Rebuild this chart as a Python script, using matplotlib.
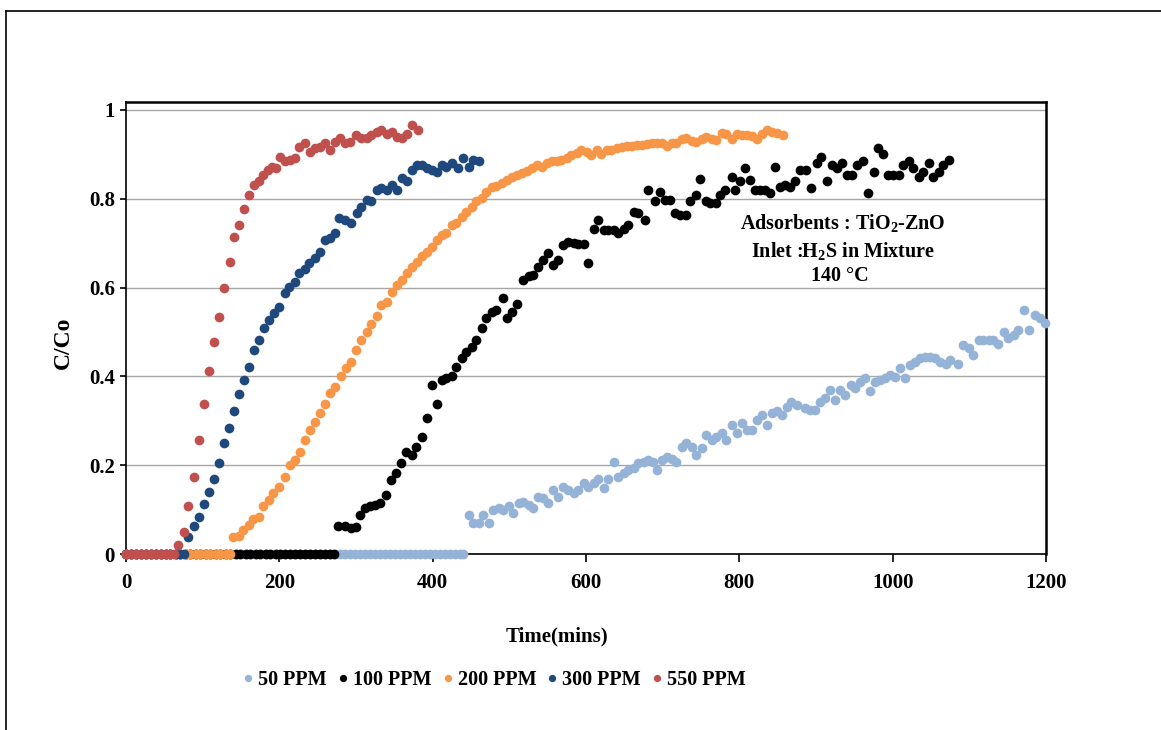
import matplotlib.pyplot as plt
from matplotlib.lines import Line2D

plt.rcParams['font.family'] = ['Liberation Serif', 'DejaVu Serif']
plt.rcParams['font.weight'] = 'bold'
plt.rcParams['mathtext.fontset'] = 'custom'
plt.rcParams['mathtext.rm'] = 'Liberation Serif:bold'
plt.rcParams['mathtext.it'] = 'Liberation Serif:bold'
plt.rcParams['mathtext.default'] = 'rm'

# 50 PPM
t50 = [0, 6, 13, 19, 26, 32, 39, 45, 52, 58, 65, 71, 78, 84, 91, 97, 104, 110, 117, 123,
       130, 136, 143, 149, 156, 162, 169, 175, 182, 188, 195, 201, 208, 214, 221, 227, 234,
       240, 247, 253, 260, 266, 273, 279, 286, 292, 299, 305, 312, 318, 325, 331, 338, 344,
       351, 357, 364, 370, 377, 383, 390, 396, 403, 409, 416, 422, 429, 435, 440,
       447, 453, 460, 466, 473, 479, 486, 492, 499, 505, 512, 518, 525, 531, 538, 544, 551,
       557, 564, 570, 577, 584, 590, 597, 603, 610, 616, 623, 629, 636, 642, 649, 655, 662,
       668, 675, 681, 688, 692, 699, 705, 712, 718, 725, 731, 738, 744, 751, 757, 764, 770,
       777, 783, 790, 797, 803, 810, 816, 823, 829, 836, 842, 849, 855, 862, 868, 875, 886,
       892, 899, 905, 912, 918, 925, 931, 938, 945, 951, 958, 964, 971, 977, 983, 990, 997,
       1003, 1010, 1016, 1023, 1029, 1036, 1042, 1049, 1055, 1062, 1069, 1075, 1085, 1092,
       1099, 1105, 1112, 1118, 1125, 1131, 1138, 1145, 1151, 1158, 1164, 1171, 1178, 1186,
       1192, 1199]
c50 = [0, 0, 0, 0, 0, 0, 0, 0, 0, 0, 0, 0, 0, 0, 0, 0, 0, 0, 0, 0,
       0, 0, 0, 0, 0, 0, 0, 0, 0, 0, 0, 0, 0, 0, 0, 0, 0,
       0, 0, 0, 0, 0, 0, 0, 0, 0, 0, 0, 0, 0, 0, 0, 0, 0,
       0, 0, 0, 0, 0, 0, 0, 0, 0, 0, 0, 0, 0, 0, 0,
       0.088, 0.069, 0.069, 0.088, 0.069, 0.099, 0.103, 0.099, 0.107, 0.092,
       0.114, 0.118, 0.11, 0.103, 0.129, 0.125, 0.114, 0.144, 0.129, 0.152,
       0.144, 0.137, 0.144, 0.159, 0.152, 0.159, 0.17, 0.148, 0.17, 0.208,
       0.174, 0.182, 0.189, 0.193, 0.204, 0.208, 0.212, 0.208, 0.189, 0.212,
       0.219, 0.215, 0.208, 0.242, 0.249, 0.242, 0.223, 0.238, 0.268, 0.257,
       0.264, 0.272, 0.257, 0.291, 0.272, 0.294, 0.279, 0.279, 0.302, 0.313,
       0.291, 0.317, 0.321, 0.313, 0.332, 0.343, 0.336,
       0.328, 0.324, 0.324, 0.343, 0.351, 0.369, 0.347, 0.369, 0.358, 0.381,
       0.373, 0.388, 0.396, 0.366, 0.388, 0.392, 0.396, 0.403, 0.399, 0.418,
       0.396, 0.426, 0.433, 0.441, 0.444, 0.444, 0.441, 0.433, 0.429, 0.437,
       0.429, 0.471, 0.463, 0.448, 0.482, 0.483, 0.482, 0.482, 0.474, 0.501,
       0.486, 0.493, 0.505, 0.55, 0.505, 0.538, 0.531, 0.52]

# 100 PPM
t100 = [0, 6, 13, 19, 26, 32, 39, 45, 52, 58, 65, 71, 78, 84, 91, 97, 104, 110, 117, 123,
        130, 136, 143, 149, 156, 162, 169, 175, 182, 188, 195, 201, 208, 214, 221, 227, 234,
        240, 247, 253, 260, 266, 271,
        277, 286, 293, 300, 305, 312, 318, 325, 331, 339, 345, 352, 359, 365, 373, 378, 386,
        392, 399, 405, 412, 418, 425, 431, 438, 444, 451, 457, 464, 470, 477, 483, 492, 497,
        503, 510, 518, 525, 531, 538, 544, 551, 557, 564, 570, 577, 584, 590, 597, 603, 610,
        616, 623, 629, 636, 642, 649, 655, 662, 668, 677, 681, 690, 697, 703, 710, 716, 723,
        730, 736, 743, 749, 756, 762, 769, 775, 781, 790, 794, 801, 807, 814, 820, 827, 833,
        840, 846, 853, 860, 866, 873, 879, 887, 894, 901, 907, 914, 921, 927, 934, 940, 947,
        953, 961, 968, 975, 981, 988, 994, 1001, 1008, 1014, 1021, 1027, 1034, 1040, 1047,
        1053, 1060, 1066, 1074]
c100 = [0, 0, 0, 0, 0, 0, 0, 0, 0, 0, 0, 0, 0, 0, 0, 0, 0, 0, 0, 0,
        0, 0, 0, 0, 0, 0, 0, 0, 0, 0, 0, 0, 0, 0, 0, 0, 0,
        0, 0, 0, 0, 0, 0,
        0.062, 0.062, 0.058, 0.06, 0.088, 0.103, 0.107, 0.11, 0.114, 0.133,
        0.167, 0.182, 0.204, 0.23, 0.223, 0.242, 0.264, 0.306, 0.381, 0.338,
        0.392, 0.396, 0.401, 0.422, 0.441, 0.456, 0.467, 0.482, 0.508, 0.531,
        0.546, 0.55, 0.576, 0.531, 0.546, 0.563, 0.617, 0.625, 0.628, 0.647, 0.662, 0.677,
        0.651, 0.662, 0.696, 0.703, 0.7, 0.698, 0.698, 0.655, 0.733, 0.752,
        0.73, 0.73, 0.73, 0.722, 0.733, 0.741, 0.771, 0.767, 0.752, 0.82,
        0.794, 0.816, 0.797, 0.797, 0.767, 0.764, 0.764, 0.794, 0.809, 0.844,
        0.794, 0.791, 0.791, 0.809, 0.82, 0.85, 0.82, 0.839, 0.869, 0.842,
        0.82, 0.82, 0.82, 0.812, 0.872, 0.827, 0.831, 0.827, 0.839, 0.865,
        0.865, 0.824, 0.88, 0.895, 0.839, 0.876, 0.869, 0.88, 0.854, 0.854,
        0.876, 0.884, 0.812, 0.861, 0.914, 0.902, 0.854, 0.854, 0.854, 0.876,
        0.884, 0.869, 0.85, 0.861, 0.88, 0.848, 0.861, 0.876, 0.887]

# 200 PPM
t200 = [0, 6, 13, 19, 26, 32, 39, 45, 52, 58, 65, 71, 78, 84, 91, 97, 104, 110, 117, 123,
        130, 136,
        140, 147, 153, 160, 166, 173, 179, 186, 192, 200, 207, 214, 220, 227, 233, 240, 247,
        253, 260, 266, 273, 280, 287, 293, 300, 307, 314, 320, 327, 333, 340, 347, 353, 360,
        366, 373, 379, 386, 392, 399, 405, 412, 418, 425, 431, 438, 444, 451, 457, 464, 470,
        477, 483, 490, 497, 503, 510, 516, 523, 529, 536, 542, 549, 555, 562, 568, 575, 581,
        588, 594, 601, 607, 614, 620, 627, 633, 640, 647, 653, 660, 666, 673, 679, 686, 692,
        699, 705, 712, 718, 725, 731, 738, 744, 751, 757, 764, 770, 777, 783, 790, 797, 803,
        810, 816, 823, 829, 836, 842, 849, 857]
c200 = [0, 0, 0, 0, 0, 0, 0, 0, 0, 0, 0, 0, 0, 0, 0, 0, 0, 0, 0, 0,
        0, 0,
        0.038, 0.041, 0.054, 0.065, 0.078, 0.084, 0.107, 0.122, 0.137, 0.152,
        0.174, 0.2, 0.212, 0.23, 0.257, 0.279, 0.298, 0.317, 0.338, 0.362,
        0.375, 0.401, 0.418, 0.433, 0.459, 0.482, 0.501, 0.518, 0.536, 0.561,
        0.568, 0.591, 0.606, 0.617, 0.632, 0.647, 0.658, 0.671, 0.681, 0.692,
        0.707, 0.718, 0.722, 0.741, 0.745, 0.76, 0.771, 0.782, 0.794, 0.801,
        0.816, 0.827, 0.829, 0.835, 0.842, 0.848, 0.854, 0.859, 0.863, 0.869, 0.876, 0.872,
        0.88, 0.884, 0.884, 0.887, 0.891, 0.899, 0.904, 0.91, 0.906, 0.899, 0.91,
        0.902, 0.91, 0.911, 0.914, 0.917, 0.919, 0.919, 0.921, 0.921, 0.923,
        0.925, 0.926, 0.925, 0.919, 0.926, 0.925, 0.934, 0.936, 0.931, 0.929,
        0.934, 0.94, 0.934, 0.932, 0.949, 0.947, 0.934, 0.947, 0.944, 0.944,
        0.941, 0.934, 0.947, 0.956, 0.951, 0.949, 0.944]

# 300 PPM
t300 = [0, 6, 13, 19, 26, 32, 39, 45, 52, 58, 65, 71, 76,
        81, 89, 95, 102, 108, 115, 121, 128, 134, 141, 148, 154, 161, 167, 174, 180, 187,
        193, 200, 207, 213, 220, 226, 233, 239, 247, 253, 260, 266, 273, 278, 286, 294, 301,
        307, 314, 320, 327, 333, 340, 347, 353, 360, 366, 373, 379, 386, 392, 399, 405, 412,
        418, 425, 433, 440, 447, 453, 460]
c300 = [0, 0, 0, 0, 0, 0, 0, 0, 0, 0, 0, 0, 0,
        0.039, 0.062, 0.084, 0.113, 0.14, 0.169, 0.206, 0.249, 0.283, 0.323,
        0.36, 0.392, 0.422, 0.459, 0.483, 0.508, 0.527, 0.542, 0.557, 0.587,
        0.602, 0.613, 0.632, 0.643, 0.655, 0.666, 0.681, 0.707, 0.711, 0.722,
        0.756, 0.752, 0.745, 0.767, 0.782, 0.797, 0.794, 0.82, 0.824, 0.82,
        0.831, 0.82, 0.846, 0.839, 0.865, 0.876, 0.876, 0.869, 0.865, 0.861,
        0.876, 0.872, 0.88, 0.869, 0.891, 0.872, 0.887, 0.885]

# 550 PPM
t550 = [0, 6, 13, 19, 26, 32, 39, 45, 52, 58, 62,
        68, 75, 81, 89, 95, 102, 108, 115, 121, 128, 135, 141, 148, 154, 161, 167, 174, 179,
        185, 190, 195, 201, 207, 214, 220, 226, 233, 240, 247, 253, 260, 266, 273, 279, 286,
        292, 300, 307, 314, 320, 327, 333, 340, 347, 353, 360, 366, 373, 381]
c550 = [0, 0, 0, 0, 0, 0, 0, 0, 0, 0, 0,
        0.02, 0.05, 0.107, 0.174, 0.257, 0.337, 0.413, 0.478, 0.533, 0.598,
        0.658, 0.715, 0.74, 0.778, 0.809, 0.831, 0.839, 0.854, 0.865, 0.872,
        0.87, 0.895, 0.884, 0.887, 0.891, 0.917, 0.925, 0.906, 0.914, 0.917,
        0.925, 0.91, 0.929, 0.936, 0.925, 0.929, 0.944, 0.936, 0.936, 0.944,
        0.951, 0.955, 0.947, 0.951, 0.94, 0.936, 0.947, 0.966, 0.955]

series = [
    (t50, c50, '50 PPM', '#95B3D7'),
    (t100, c100, '100 PPM', '#000000'),
    (t200, c200, '200 PPM', '#F79646'),
    (t300, c300, '300 PPM', '#1F497D'),
    (t550, c550, '550 PPM', '#C0504D'),
]

fig = plt.figure(figsize=(11.61, 7.30), dpi=100)
ax = fig.add_axes([126 / 1161, 1 - 554 / 730, 920 / 1161, 452 / 730])

for t, c, name, col in series:
    ax.plot(t, c, 'o', ms=7, color=col, markeredgewidth=0, label=name,
            clip_on=False, zorder=3)

ax.set_xlim(0, 1200)
ax.set_ylim(0, 1.018)
ax.set_xticks([0, 200, 400, 600, 800, 1000, 1200])
ax.set_yticks([0, 0.2, 0.4, 0.6, 0.8, 1.0])
ax.set_yticklabels(['0', '0.2', '0.4', '0.6', '0.8', '1'])
ax.grid(axis='y', color='#A6A6A6', lw=1)
ax.set_axisbelow(True)
ax.tick_params(axis='x', direction='out', length=6, width=1.2, pad=8, labelsize=15)
ax.tick_params(axis='y', direction='out', length=4, width=1.2, pad=4, labelsize=15)
for s in ['left', 'bottom']:
    ax.spines[s].set_linewidth(1.2)
for s in ['top', 'right']:
    ax.spines[s].set_linewidth(1.8)

fig.text(63 / 1161, 1 - 343 / 730, 'C/Co', rotation=90, fontsize=17,
         ha='center', va='center', fontweight='bold')
fig.text(557 / 1161, 1 - 636 / 730, 'Time(mins)', fontsize=15,
         ha='center', va='center', fontweight='bold')

# note inside the plot area
ax.text(935, 0.745, 'Adsorbents : TiO$_2$-ZnO', fontsize=14.5, ha='center', va='center')
ax.text(935, 0.683, 'Inlet :H$_2$S in Mixture', fontsize=14.5, ha='center', va='center')
ax.text(931, 0.625, '140 °C', fontsize=14.5, ha='center', va='center')

fig.legend(loc='center', bbox_to_anchor=(495 / 1161, 1 - 680 / 730), ncol=5,
           frameon=False, fontsize=14.5, handlelength=0.4, handletextpad=0.3,
           columnspacing=0.6, markerscale=0.75)

# outer frame (only left and top visible)
fig.add_artist(Line2D([6 / 1161, 6 / 1161], [0, 1 - 11 / 730], color='black', lw=1.2))
fig.add_artist(Line2D([6 / 1161, 1], [1 - 11 / 730, 1 - 11 / 730], color='black', lw=1.2))

plt.savefig('out.png', dpi=100)
